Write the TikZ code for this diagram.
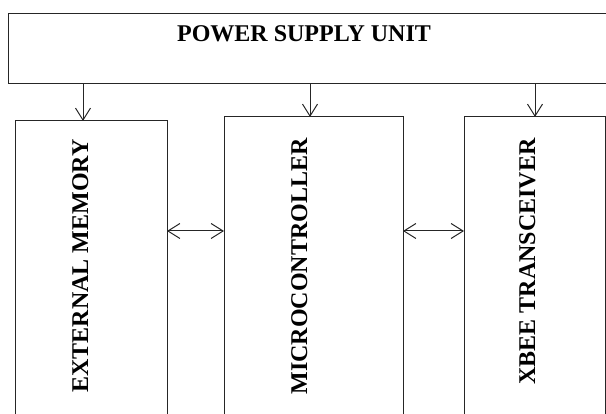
\documentclass[tikz,border=0pt]{standalone}
\usepackage{fontspec}
\usepackage{tikz}
\usetikzlibrary{arrows.meta,positioning}
\newfontfamily\blockfont{Liberation Serif}
\newcommand{\blocktxt}{\blockfont\bfseries\fontsize{24}{28}\selectfont}
\tikzset{
  blk/.style={draw,inner sep=0pt,outer sep=0pt,anchor=north west},
  vlabel/.style={rotate=90,anchor=base east,inner sep=0pt}
}

\begin{document}
\begin{tikzpicture}[x=1pt,y=-1pt,every node/.style={font=\blocktxt},>={Straight Barb[length=12pt,width=15pt]},line width=1pt,draw=black!85]
\path[use as bounding box,clip] (0,0) rectangle (606,414);
\node[blk,minimum width=604pt,minimum height=70pt] (psu) at (8,14) {};
\node[anchor=base,inner sep=0pt] (psut) at (304,42) {POWER SUPPLY UNIT};
\node[blk,minimum width=152pt,minimum height=309pt] (mem) at (15,121) {};
\node[blk,minimum width=179pt,minimum height=313pt] (mcu) at (224,117) {};
\node[blk,minimum width=141pt,minimum height=313pt] (xbee) at (464,117) {};
\node[vlabel] (memt) at (88,139) {EXTERNAL MEMORY};
\node[vlabel] (mcut) at (307,138) {MICROCONTROLLER};
\node[vlabel] (xbeet) at (535,138) {XBEE TRANSCEIVER};
% power feeds and data links
\coordinate (f1) at (83,0);
\coordinate (f2) at (310,0);
\coordinate (f3) at (535,0);
\coordinate (bus) at (0,231);
\draw[->] (psu.south -| f1) -- (mem.north -| f1);
\draw[->] (psu.south -| f2) -- (mcu.north -| f2);
\draw[->] (psu.south -| f3) -- (xbee.north -| f3);
\draw[<->] (mem.east |- bus) -- (mcu.west |- bus);
\draw[<->] (mcu.east |- bus) -- (xbee.west |- bus);
\end{tikzpicture}
\end{document}
